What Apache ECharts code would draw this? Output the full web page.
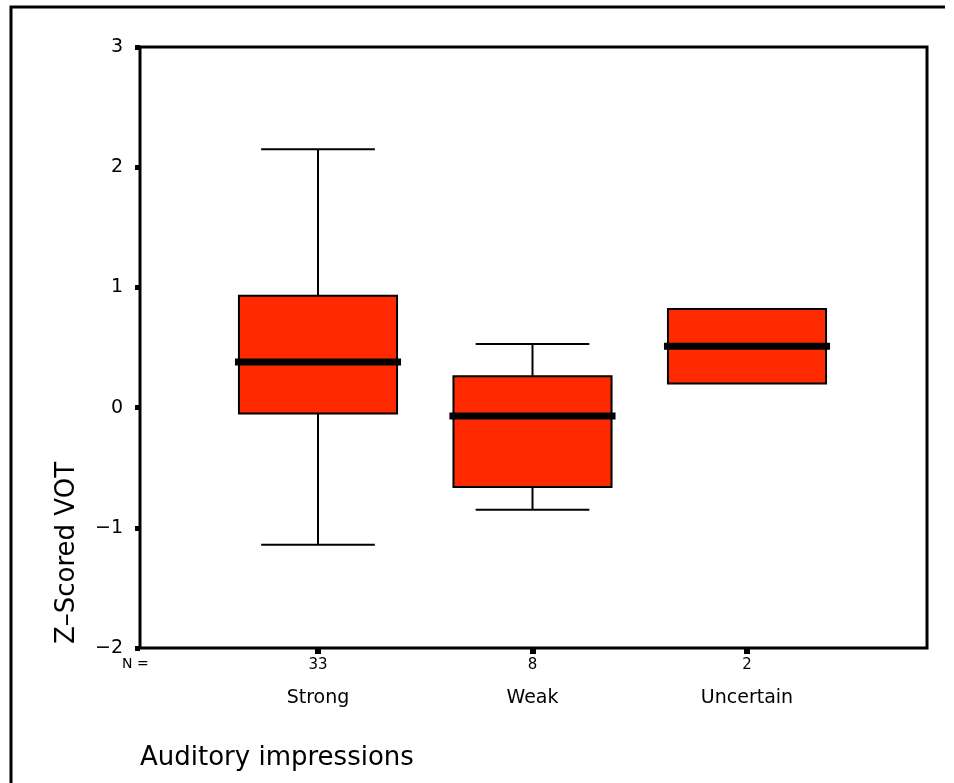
<!DOCTYPE html>
<html>
<head>
<meta charset="utf-8">
<script src="https://cdn.jsdelivr.net/npm/echarts@6/dist/echarts.min.js"></script>
<style>html,body{margin:0;padding:0;background:#fff}#c{width:954px;height:783px}</style>
</head>
<body>
<div id="c"></div>
<script>
// ---- data ----
var categories = ['Strong', 'Weak', 'Uncertain'];
var counts = [33, 8, 2];
var whiskerLow = [-1.14, -0.85, 0.20];
var q1s = [-0.05, -0.66, 0.20];
var medians = [0.38, -0.07, 0.51];
var q3s = [0.93, 0.26, 0.82];
var whiskerHigh = [2.15, 0.53, 0.82];
var yTicks = [-2, -1, 0, 1, 2, 3];

var boxData = categories.map(function (c, i) {
  return [i, whiskerLow[i], q1s[i], medians[i], q3s[i], whiskerHigh[i]];
});

var FONT = 'DejaVu Sans';
var chart = echarts.init(document.getElementById('c'), null, { renderer: 'canvas' });

function renderBox(params, api) {
  var idx = api.value(0);
  var lo = api.value(1), q1 = api.value(2), med = api.value(3), q3 = api.value(4), hi = api.value(5);
  var band = api.size([1, 0])[0];
  var boxW = band * 0.737;
  var capW = band * 0.53;
  var pLo = api.coord([idx, lo]);
  var pQ1 = api.coord([idx, q1]);
  var pMed = api.coord([idx, med]);
  var pQ3 = api.coord([idx, q3]);
  var pHi = api.coord([idx, hi]);
  var cx = pMed[0];
  var children = [];
  var lineStyle = { stroke: '#000', lineWidth: 2 };
  if (hi > q3) {
    children.push({ type: 'line', shape: { x1: cx, y1: pHi[1], x2: cx, y2: pQ3[1] }, style: lineStyle });
    children.push({ type: 'line', shape: { x1: cx - capW / 2, y1: pHi[1], x2: cx + capW / 2, y2: pHi[1] }, style: lineStyle });
  }
  if (lo < q1) {
    children.push({ type: 'line', shape: { x1: cx, y1: pQ1[1], x2: cx, y2: pLo[1] }, style: lineStyle });
    children.push({ type: 'line', shape: { x1: cx - capW / 2, y1: pLo[1], x2: cx + capW / 2, y2: pLo[1] }, style: lineStyle });
  }
  children.push({
    type: 'rect',
    shape: { x: cx - boxW / 2, y: pQ3[1], width: boxW, height: pQ1[1] - pQ3[1] },
    style: { fill: '#ff2a00', stroke: '#000', lineWidth: 2 }
  });
  children.push({
    type: 'line',
    shape: { x1: cx - boxW / 2 - 4, y1: pMed[1], x2: cx + boxW / 2 + 4, y2: pMed[1] },
    style: { stroke: '#000', lineWidth: 7 }
  });
  return { type: 'group', children: children };
}

var option = {
  animation: false,
  backgroundColor: '#fff',
  grid: [
    { left: 140, top: 47, width: 787, height: 601, show: true, borderColor: '#000', borderWidth: 3, backgroundColor: 'transparent' },
    { left: 210.75, top: 47, width: 643.5, height: 601 }
  ],
  xAxis: [
    { type: 'value', gridIndex: 0, min: 0, max: 1, axisLine: { show: false, onZero: false }, axisTick: { show: false }, axisLabel: { show: false }, splitLine: { show: false } },
    {
      type: 'category', gridIndex: 1, data: categories, boundaryGap: true, position: 'bottom',
      axisLine: { show: false, onZero: false },
      axisTick: { show: true, alignWithLabel: true, length: 6, lineStyle: { color: '#000', width: 6 } },
      splitLine: { show: false },
      axisLabel: {
        margin: 7,
        formatter: function (v, i) { return '{n|' + counts[i] + '}\n{c|' + v + '}'; },
        rich: {
          n: { fontFamily: FONT, fontSize: 15, color: '#000', lineHeight: 20 },
          c: { fontFamily: FONT, fontSize: 19, color: '#000', lineHeight: 46 }
        }
      }
    }
  ],
  yAxis: [
    {
      type: 'value', gridIndex: 0, min: yTicks[0], max: yTicks[yTicks.length - 1], interval: 1,
      axisLine: { show: false },
      axisTick: { show: true, length: 5, lineStyle: { color: '#000', width: 5 } },
      splitLine: { show: false },
      axisLabel: {
        margin: 17, color: '#000', fontFamily: FONT, fontSize: 19,
        formatter: function (v) { return v < 0 ? '\u2212' + Math.abs(v) : String(v); }
      }
    },
    { type: 'value', gridIndex: 1, min: yTicks[0], max: yTicks[yTicks.length - 1], show: false }
  ],
  series: [
    {
      type: 'custom', xAxisIndex: 1, yAxisIndex: 1,
      renderItem: renderBox,
      encode: { x: 0, y: [1, 2, 3, 4, 5] },
      data: boxData
    }
  ],
  graphic: [
    { type: 'polyline', shape: { points: [[945, 7], [11, 7], [11, 790]] }, style: { stroke: '#000', lineWidth: 3, fill: null } },
    { type: 'text', left: 122, top: 657, style: { text: 'N =', fontFamily: FONT, fontSize: 14, fill: '#000' } },
    { type: 'text', x: 140, y: 758, style: { text: 'Auditory impressions', fontFamily: FONT, fontSize: 26, fill: '#000', verticalAlign: 'middle', align: 'left' } },
    { type: 'text', x: 67, y: 553, rotation: Math.PI / 2, style: { text: 'Z\u2013Scored VOT', fontFamily: FONT, fontSize: 26, fill: '#000', align: 'center', verticalAlign: 'middle' } }
  ]
};
chart.setOption(option);
</script>
</body>
</html>
